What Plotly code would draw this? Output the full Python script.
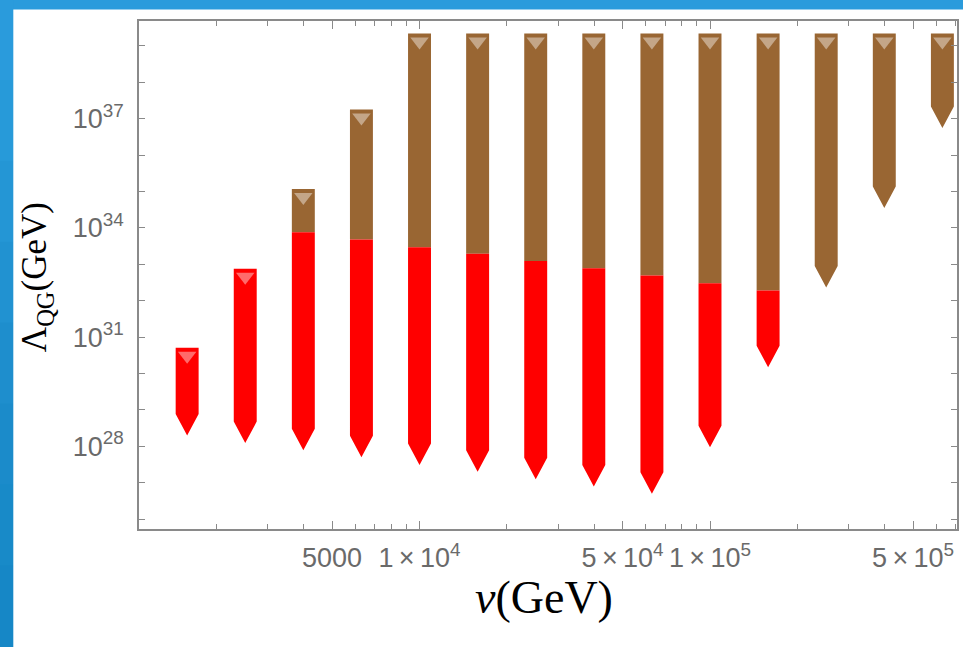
import plotly.graph_objects as go

# ---------------- data ----------------
v_gev = [1585, 2512, 3981, 6310, 1.0e4, 1.585e4, 2.512e4, 3.981e4,
         6.31e4, 1.0e5, 1.585e5, 2.512e5, 3.981e5, 6.31e5]
# upper end of the brown band (None = no brown band)
brown_top = [None, None, 1.17e35, 1.78e37, 2.19e39, 2.19e39, 2.19e39, 2.19e39,
             2.19e39, 2.19e39, 2.19e39, 2.19e39, 2.19e39, 2.19e39]
# upper end of the red band (None = no red band)
red_top = [5.1e30, 7.6e32, 7.6e33, 4.8e33, 2.95e33, 1.95e33, 1.23e33, 7.8e32,
           4.9e32, 3.0e32, 1.9e32, None, None, None]
# lowest point of each column
lam_bottom = [2.0e28, 1.23e28, 7.8e27, 5.0e27, 3.1e27, 2.0e27, 1.26e27, 7.9e26,
              5.0e26, 9.5e27, 1.5e30, 2.3e32, 3.5e34, 5.5e36]

x_major = [5000, 1e4, 5e4, 1e5, 5e5]
x_major_text = ["5000", "1\u2009×\u200910<sup>4</sup>", "5\u2009×\u200910<sup>4</sup>",
                "1\u2009×\u200910<sup>5</sup>", "5\u2009×\u200910<sup>5</sup>"]
x_minor = [2000, 3000, 4000, 6000, 7000, 8000, 9000,
           2e4, 3e4, 4e4, 6e4, 7e4, 8e4, 9e4,
           2e5, 3e5, 4e5, 6e5, 7e5]
y_labeled = [28, 31, 34, 37]
y_unlabeled = [26, 27, 29, 30, 32, 33, 35, 36, 38, 39]

# ---------------- styles ----------------
BROWN = "#996633"
RED = "#ff0000"
HW = 0.0395   # half column width, decades of x
TIP = 0.59    # height of the arrow tip, decades of y
AXC = "#8a8a8a"
TXT = "#6a6a6a"
TICKFONT = "Liberation Sans Narrow, Liberation Sans, Arial"

L, R, T, B = 139, 4, 21, 118
W, H = 963, 647
PW, PH = W - L - R, H - T - B


def px_x(p):
    return (p - L) / PW


def px_y(p):
    return (H - B - p) / PH


def column(v, top, bottom, tip):
    xl, xr = v * 10 ** (-HW), v * 10 ** HW
    if tip:
        base = bottom * 10 ** TIP
        return [xl, xr, xr, v, xl, xl, None], [top, top, base, bottom, base, top, None]
    return [xl, xr, xr, xl, xl, None], [top, top, bottom, bottom, top, None]


bx, by, rx, ry = [], [], [], []
cap_x, cap_y = [], []
for v, bt, rt, lb in zip(v_gev, brown_top, red_top, lam_bottom):
    if bt is not None:
        xs, ys = column(v, bt, rt if rt is not None else lb, rt is None)
        bx += xs
        by += ys
    if rt is not None:
        xs, ys = column(v, rt, lb, True)
        rx += xs
        ry += ys
    top = bt if bt is not None else rt
    cap_x.append(v)
    cap_y.append(top * 10 ** (-0.22))

fig = go.Figure()
fig.add_trace(go.Scatter(x=bx, y=by, mode="lines", fill="toself", fillcolor=BROWN,
                         line=dict(width=0, color=BROWN), hoverinfo="skip", showlegend=False))
fig.add_trace(go.Scatter(x=rx, y=ry, mode="lines", fill="toself", fillcolor=RED,
                         line=dict(width=0, color=RED), hoverinfo="skip", showlegend=False))
# light interior of the topmost open-triangle marker of each column
fig.add_trace(go.Scatter(x=cap_x, y=cap_y, mode="markers", hoverinfo="skip", showlegend=False,
                         marker=dict(symbol="triangle-down", size=16,
                                     color="rgba(255,255,255,0.42)", line=dict(width=0))))

# background: blue frame with white slide area
shapes = []
blues = ["#2a9bdc", "#279ad9", "#2496d5", "#2192d1", "#1e8ecd", "#1b8bca", "#188ac8", "#1687c6"]
n = len(blues)
for i, c in enumerate(blues):
    shapes.append(dict(type="rect", xref="paper", yref="paper", layer="below",
                       x0=px_x(-5), x1=px_x(13.5), y0=px_y(H * (i + 1) / n + 1), y1=px_y(H * i / n - 1),
                       fillcolor=c, line=dict(width=0)))
shapes.append(dict(type="rect", xref="paper", yref="paper", layer="below",
                   x0=px_x(13), x1=px_x(W + 10), y0=px_y(H + 10), y1=px_y(9.5),
                   fillcolor="white", line=dict(width=0)))

fig.update_layout(
    width=W, height=H,
    margin=dict(l=L, r=R, t=T, b=B),
    paper_bgcolor="#2a9bdc",
    plot_bgcolor="rgba(0,0,0,0)",
    shapes=shapes,
    showlegend=False,
    font=dict(family=TICKFONT, color=TXT),
)

fig.update_xaxes(
    type="log", range=[3.0343, 5.8503],
    showgrid=False, zeroline=False,
    showline=True, linecolor=AXC, linewidth=1.5, mirror="ticks",
    ticks="inside", ticklen=8, tickwidth=1.3, tickcolor=AXC,
    tickmode="array", tickvals=x_major, ticktext=x_major_text,
    tickfont=dict(size=27, color=TXT, family=TICKFONT),
    ticklabelstandoff=4,
    minor=dict(tickmode="array", tickvals=x_minor, ticks="inside", ticklen=5,
               tickwidth=1.2, tickcolor=AXC, showgrid=False),
)
fig.update_yaxes(
    type="log", range=[25.731, 39.681],
    showgrid=False, zeroline=False,
    showline=True, linecolor=AXC, linewidth=1.5, mirror="ticks",
    ticks="inside", ticklen=6, tickwidth=1.3, tickcolor=AXC,
    tickmode="array", tickvals=[10.0 ** e for e in y_labeled],
    ticktext=[f"10<sup>{e}</sup>" for e in y_labeled],
    tickfont=dict(size=27, color=TXT, family=TICKFONT),
    ticklabelstandoff=8,
    minor=dict(tickmode="array", tickvals=[10.0 ** e for e in y_unlabeled], ticks="inside",
               ticklen=6, tickwidth=1.3, tickcolor=AXC, showgrid=False),
)

fig.add_annotation(xref="paper", yref="paper", x=px_x(545), y=px_y(597),
                   xanchor="center", yanchor="middle", showarrow=False,
                   text="<i>v</i>(GeV)",
                   font=dict(family="Liberation Serif, Times New Roman, serif", size=46, color="black"))
fig.add_annotation(xref="paper", yref="paper", x=px_x(36), y=px_y(277),
                   xanchor="center", yanchor="middle", showarrow=False, textangle=-90,
                   text="Λ<sub>QG</sub>(GeV)",
                   font=dict(family="Liberation Serif, Times New Roman, serif", size=35, color="black"))

fig.write_html("out.html")
